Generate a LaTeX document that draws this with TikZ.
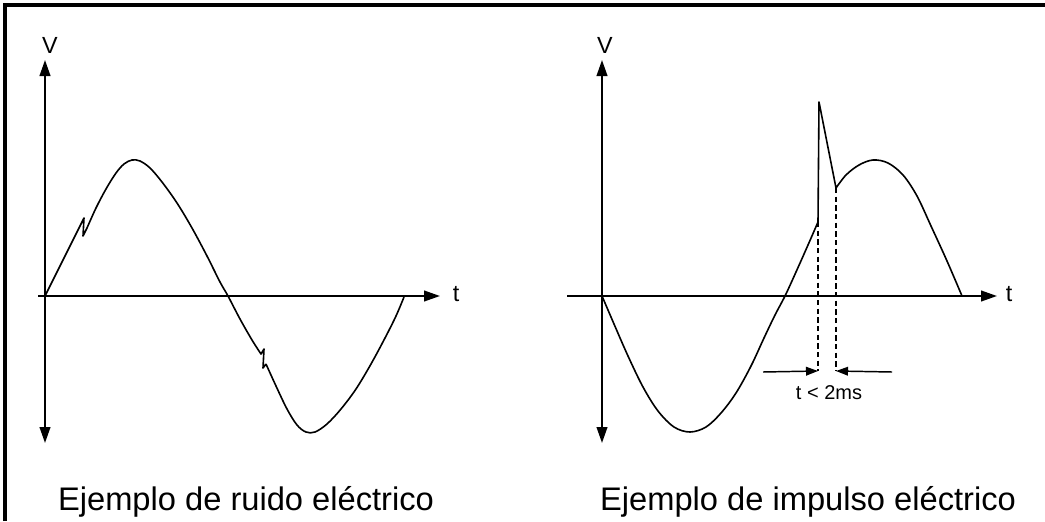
\documentclass[tikz,border=0pt]{standalone}
\usepackage{fontspec}
\setmainfont{Liberation Sans}
\usetikzlibrary{arrows.meta}
\begin{document}
\begin{tikzpicture}[x=0.75pt,y=-0.75pt,
  axis/.style={line width=1.5pt,-{Triangle[length=12pt,width=8pt]}},
  wave/.style={line width=1.2pt,line join=round},
  dimarrow/.style={line width=1.1pt,-{Triangle[length=9pt,width=6.5pt]}},
  guide/.style={line width=1.1pt,dash pattern=on 4pt off 2.5pt},
  lbl/.style={font=\fontsize{17.5}{20}\selectfont,inner sep=0pt},
  captiontext/.style={font=\fontsize{24.5}{28}\selectfont,inner sep=0pt,anchor=base}]
\useasboundingbox (0,0) rectangle (1045,521);
\fill[white] (0,0) rectangle (1045,521);
\draw[line width=2.4pt] (5,521) -- (5,5) -- (1045,5);

% ---------- left graph ----------
\coordinate (L0) at (45,296);
\coordinate (Ltop) at (45,60);
\coordinate (Lbot) at (45,443);
\coordinate (Lxs) at (38,296);
\coordinate (Lxe) at (440,296);
\draw[axis] (L0) -- (Ltop);
\draw[axis] (L0) -- (Lbot);
\draw[axis] (Lxs) -- (Lxe);
\node[lbl] (LV) at (50,45) {V};
\node[lbl] (Lt) at (456,294) {t};
\draw[wave] (45,296) -- (62,262) -- (79,228) -- (84,218) -- (83,236) -- (87,228)
  plot[smooth,tension=0.55] coordinates {(87,228) (96,208) (106,189) (116,173) (124,164) (132,160)
  (140,161) (150,168) (162,182) (177,203) (192,228) (207,256) (220,282) (228,296) (240,319) (252,340) (261,354)}
  -- (264,349) -- (263,368) -- (266,364)
  plot[smooth,tension=0.55] coordinates {(266,364) (276,386) (287,409) (297,425) (306,432) (315,432)
  (327,424) (341,409) (356,389) (371,364) (385,338) (396,316) (404,297)};
\node[captiontext] (Lcap) at (246,510) {Ejemplo de ruido eléctrico};

% ---------- right graph ----------
\coordinate (R0) at (602,296);
\coordinate (Rtop) at (602,60);
\coordinate (Rbot) at (602,443);
\coordinate (Rxs) at (567,296);
\coordinate (Rxe) at (997,296);
\draw[axis] (R0) -- (Rtop);
\draw[axis] (R0) -- (Rbot);
\draw[axis] (Rxs) -- (Rxe);
\node[lbl] (RV) at (605,45) {V};
\node[lbl] (Rt) at (1009,294) {t};
\coordinate (S1) at (818,222);
\coordinate (S2) at (819,102);
\coordinate (S3) at (836,188);
\draw[wave] plot[smooth,tension=0.55] coordinates {(602,296) (614,324) (628,356) (643,387) (658,411) (674,427) (690,432)
  (706,427) (721,413) (736,393) (751,366) (764,338) (775,315) (785,296) (796,272) (808,245) (818,222)}
  -- (S2) -- (S3)
  plot[smooth,tension=0.55] coordinates {(836,188) (846,175) (859,165) (873,160) (888,163) (903,175) (917,196) (931,226) (947,261) (962,296)};
\coordinate (D1) at (818,371);
\coordinate (D2) at (836,371);
\draw[guide] (S1) -- (D1);
\draw[guide] (S3) -- (D2);
\coordinate (A1) at (763,372);
\coordinate (A2) at (892,372);
\draw[dimarrow] (A1) -- (D1);
\draw[dimarrow] (A2) -- (D2);
\node[font=\fontsize{15}{17}\selectfont,inner sep=0pt] (Rlab) at (829,393) {t < 2ms};
\node[captiontext] (Rcap) at (808,510) {Ejemplo de impulso eléctrico};
\end{tikzpicture}
\end{document}
